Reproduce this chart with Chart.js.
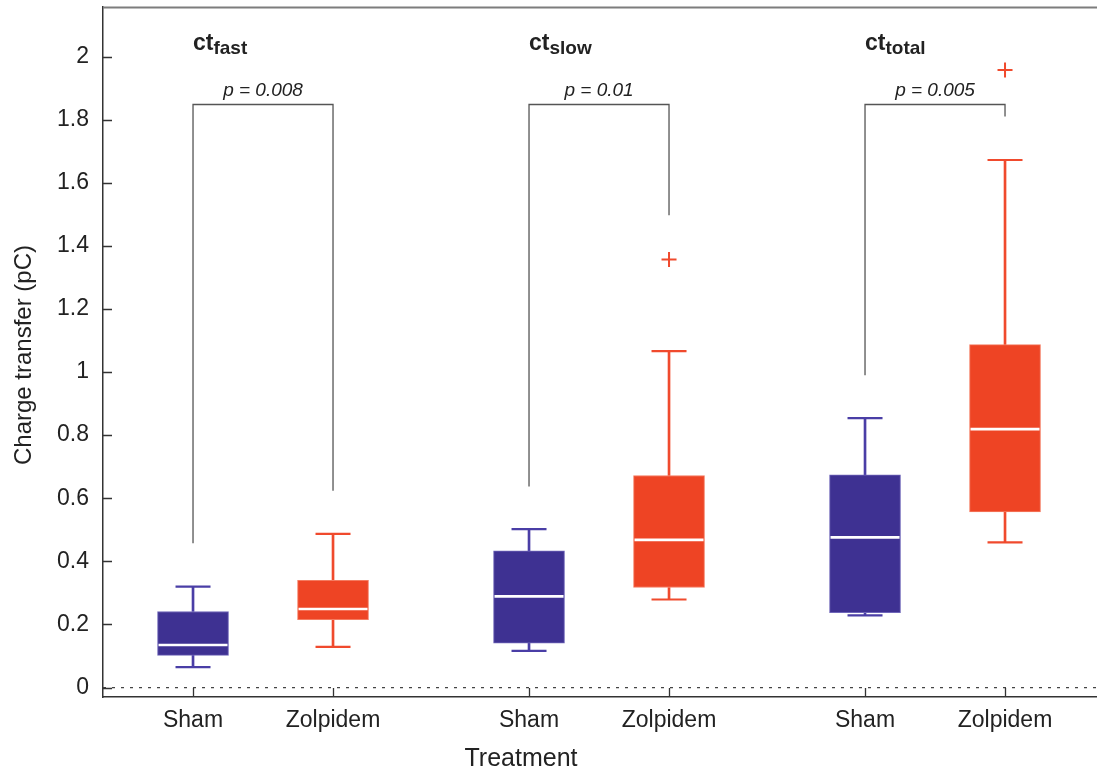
<!DOCTYPE html>
<html>
<head>
<meta charset="utf-8">
<title>Charge transfer</title>
<script src="https://cdn.jsdelivr.net/npm/chart.js@4.4.1/dist/chart.umd.min.js"></script>
<style>
  html, body { margin: 0; padding: 0; background: #ffffff; }
  #wrap { position: relative; width: 1097px; height: 776px; }
</style>
</head>
<body>
<div id="wrap"><canvas id="chart" width="1097" height="776"></canvas></div>
<script>
// ---- data ----
const measureSubscripts = ['fast', 'slow', 'total'];
const treatments = ['Sham', 'Zolpidem'];
const pValues = ['0.008', '0.01', '0.005'];

// Sham box statistics, one entry per measure (fast, slow, total)
const shamMin    = [0.065, 0.116, 0.229];
const shamQ1     = [0.102, 0.141, 0.237];
const shamMedian = [0.135, 0.289, 0.476];
const shamQ3     = [0.241, 0.433, 0.674];
const shamMax    = [0.320, 0.502, 0.854];
const shamOutliers = [[], [], []];

// Zolpidem box statistics
const zolpMin    = [0.129, 0.279, 0.460];
const zolpQ1     = [0.215, 0.317, 0.557];
const zolpMedian = [0.249, 0.468, 0.819];
const zolpQ3     = [0.340, 0.672, 1.087];
const zolpMax    = [0.487, 1.066, 1.672];
const zolpOutliers = [[], [1.357], [1.957]];

// significance brackets: foot above each box and common top
const bracketShamFoot = [0.457, 0.637, 0.990];
const bracketZolpFoot = [0.624, 1.497, 1.810];
const bracketTop      = [1.848, 1.848, 1.848];

const yTicks = [0, 0.2, 0.4, 0.6, 0.8, 1, 1.2, 1.4, 1.6, 1.8, 2];

// ---- layout helpers ----
const GROUP_STEP = 2.4;            // distance between measure groups on the x scale
const X_MIN = 0.357, X_MAX = 7.457;
const Y_MIN = -0.03, Y_MAX = 2.157;
const TITLE_Y = 2.02;              // baseline of the group headings (data units)

const posOf = (g, t) => 1 + g * GROUP_STEP + t;

const BLUE = '#3e3192', BLUE_LINE = '#4a3ea6', BLUE_EDGE = '#6f66b9';
const RED = '#ee4424', RED_LINE = '#f04a2d', RED_EDGE = '#f47b60';
const FONT = '"Liberation Sans", Arial, Helvetica, sans-serif';
const TEXT = '#222222';

function boxes(q1, q3, t) { return q1.map((v, g) => ({ x: posOf(g, t), y: [v, q3[g]] })); }
function whiskers(mn, q1, q3, mx, t) {
  const out = [];
  mn.forEach((v, g) => {
    out.push({ x: posOf(g, t), y: [q3[g], mx[g]] });
    out.push({ x: posOf(g, t), y: [v, q1[g]] });
  });
  return out;
}
function caps(mn, mx, t) {
  const out = [];
  mn.forEach((v, g) => { out.push({ x: posOf(g, t), y: v }); out.push({ x: posOf(g, t), y: mx[g] }); });
  return out;
}
function points(vals, t) { return vals.map((v, g) => ({ x: posOf(g, t), y: v })); }
function outlierPoints(list, t) {
  const out = [];
  list.forEach((arr, g) => arr.forEach(v => out.push({ x: posOf(g, t), y: v })));
  return out;
}

const datasets = [];

// dotted zero reference line
datasets.push({
  type: 'line', data: [{ x: X_MIN, y: 0 }, { x: X_MAX, y: 0 }],
  borderColor: '#444', borderWidth: 1.3, borderDash: [3, 6], pointRadius: 0, order: 10
});

// significance brackets
bracketTop.forEach((top, g) => {
  datasets.push({
    type: 'line',
    data: [
      { x: posOf(g, 0), y: bracketShamFoot[g] }, { x: posOf(g, 0), y: top },
      { x: posOf(g, 1), y: top }, { x: posOf(g, 1), y: bracketZolpFoot[g] }
    ],
    borderColor: '#555555', borderWidth: 1.3, pointRadius: 0, tension: 0, order: 9
  });
});

const barCommon = { type: 'bar', grouped: false, borderSkipped: false };

// whiskers
datasets.push(Object.assign({}, barCommon, {
  data: whiskers(shamMin, shamQ1, shamQ3, shamMax, 0),
  backgroundColor: BLUE_LINE, barThickness: 2, maxBarThickness: 2, borderWidth: 0, order: 8
}));
datasets.push(Object.assign({}, barCommon, {
  data: whiskers(zolpMin, zolpQ1, zolpQ3, zolpMax, 1),
  backgroundColor: RED_LINE, barThickness: 2, maxBarThickness: 2, borderWidth: 0, order: 8
}));

// boxes (interquartile range)
datasets.push(Object.assign({}, barCommon, {
  label: treatments[0], data: boxes(shamQ1, shamQ3, 0),
  backgroundColor: BLUE, borderColor: BLUE_EDGE, borderWidth: 1,
  barThickness: 71, maxBarThickness: 71, order: 7
}));
datasets.push(Object.assign({}, barCommon, {
  label: treatments[1], data: boxes(zolpQ1, zolpQ3, 1),
  backgroundColor: RED, borderColor: RED_EDGE, borderWidth: 1,
  barThickness: 71, maxBarThickness: 71, order: 7
}));

// whisker caps
datasets.push({
  type: 'scatter', data: caps(shamMin, shamMax, 0),
  pointStyle: 'line', pointRadius: 17.5, pointBorderWidth: 2.2, borderColor: BLUE_LINE, order: 5
});
datasets.push({
  type: 'scatter', data: caps(zolpMin, zolpMax, 1),
  pointStyle: 'line', pointRadius: 17.5, pointBorderWidth: 2.2, borderColor: RED_LINE, order: 5
});

// medians
datasets.push({
  type: 'scatter', data: points(shamMedian, 0).concat(points(zolpMedian, 1)),
  pointStyle: 'line', pointRadius: 34.5, pointBorderWidth: 2.6, borderColor: '#ffffff', order: 4
});

// outliers
datasets.push({
  type: 'scatter', data: outlierPoints(shamOutliers, 0),
  pointStyle: 'cross', pointRadius: 7.5, pointBorderWidth: 2, borderColor: BLUE_LINE, order: 3
});
datasets.push({
  type: 'scatter', data: outlierPoints(zolpOutliers, 1),
  pointStyle: 'cross', pointRadius: 7.5, pointBorderWidth: 2, borderColor: RED_LINE, order: 3
});

const xTickPositions = [];
const xTickLabels = [];
measureSubscripts.forEach((_, g) => treatments.forEach((name, t) => {
  xTickPositions.push(posOf(g, t));
  xTickLabels.push(name);
}));

// frame, inward ticks, headings, p-values and axis titles
const decorations = {
  id: 'decorations',
  afterDraw(chart) {
    const { ctx, chartArea: a, scales: { x, y } } = chart;
    ctx.save();

    // top frame line
    ctx.strokeStyle = '#7d7d7d';
    ctx.lineWidth = 2;
    ctx.beginPath();
    ctx.moveTo(a.left, a.top + 0.5);
    ctx.lineTo(a.right, a.top + 0.5);
    ctx.stroke();

    // inward tick marks
    ctx.strokeStyle = '#333';
    ctx.lineWidth = 1.3;
    ctx.beginPath();
    yTicks.forEach(v => {
      const py = Math.round(y.getPixelForValue(v)) + 0.5;
      ctx.moveTo(a.left, py); ctx.lineTo(a.left + 9, py);
    });
    xTickPositions.forEach(v => {
      const px = Math.round(x.getPixelForValue(v)) + 0.5;
      ctx.moveTo(px, a.bottom); ctx.lineTo(px, a.bottom - 9);
    });
    ctx.stroke();

    // group headings: ct with subscript
    ctx.fillStyle = TEXT;
    ctx.textBaseline = 'alphabetic';
    ctx.textAlign = 'left';
    const ty = y.getPixelForValue(TITLE_Y);
    measureSubscripts.forEach((sub, g) => {
      const px = x.getPixelForValue(posOf(g, 0));
      ctx.font = 'bold 23px ' + FONT;
      ctx.fillText('ct', px, ty);
      const w = ctx.measureText('ct').width;
      ctx.font = 'bold 19px ' + FONT;
      ctx.fillText(sub, px + w, ty + 4);
    });

    // p-values above brackets
    ctx.textAlign = 'center';
    ctx.font = 'italic 19px ' + FONT;
    pValues.forEach((p, g) => {
      const cx = (x.getPixelForValue(posOf(g, 0)) + x.getPixelForValue(posOf(g, 1))) / 2;
      const by = y.getPixelForValue(bracketTop[g]) - 8;
      ctx.fillText('p = ' + p, cx, by);
    });

    // axis titles
    ctx.font = '25px ' + FONT;
    ctx.fillText('Treatment', 521, 766);

    ctx.translate(31, (a.top + a.bottom) / 2 + 3);
    ctx.rotate(-Math.PI / 2);
    ctx.font = '24px ' + FONT;
    ctx.fillText('Charge transfer (pC)', 0, 0);
    ctx.restore();
  }
};

new Chart(document.getElementById('chart'), {
  type: 'bar',
  data: { datasets },
  options: {
    responsive: false,
    animation: false,
    events: [],
    layout: { autoPadding: false, padding: { top: 7, left: 0, right: 0, bottom: 0 } },
    plugins: { legend: { display: false }, tooltip: { enabled: false } },
    scales: {
      x: {
        type: 'linear', min: X_MIN, max: X_MAX, offset: false,
        grid: { display: false, drawTicks: false },
        border: { display: true, color: '#333', width: 1.5 },
        ticks: {
          autoSkip: false, maxRotation: 0, padding: 10, color: TEXT,
          font: { family: FONT, size: 23 },
          callback: (v) => {
            const i = xTickPositions.findIndex(p => Math.abs(p - v) < 1e-6);
            return i >= 0 ? xTickLabels[i] : '';
          }
        },
        afterBuildTicks: (s) => { s.ticks = xTickPositions.map(v => ({ value: v })); },
        afterFit: (s) => { s.height = 79; s.paddingLeft = 0; s.paddingRight = 0; }
      },
      y: {
        type: 'linear', min: Y_MIN, max: Y_MAX, stacked: false,
        grid: { display: false, drawTicks: false },
        border: { display: true, color: '#333', width: 1.5 },
        ticks: {
          padding: 14, color: TEXT,
          font: { family: FONT, size: 23 },
          callback: (v) => String(Math.round(v * 10) / 10)
        },
        afterBuildTicks: (s) => { s.ticks = yTicks.map(v => ({ value: v })); },
        afterFit: (s) => { s.width = 103; s.paddingTop = 0; s.paddingBottom = 0; }
      }
    }
  },
  plugins: [decorations]
});
</script>
</body>
</html>
